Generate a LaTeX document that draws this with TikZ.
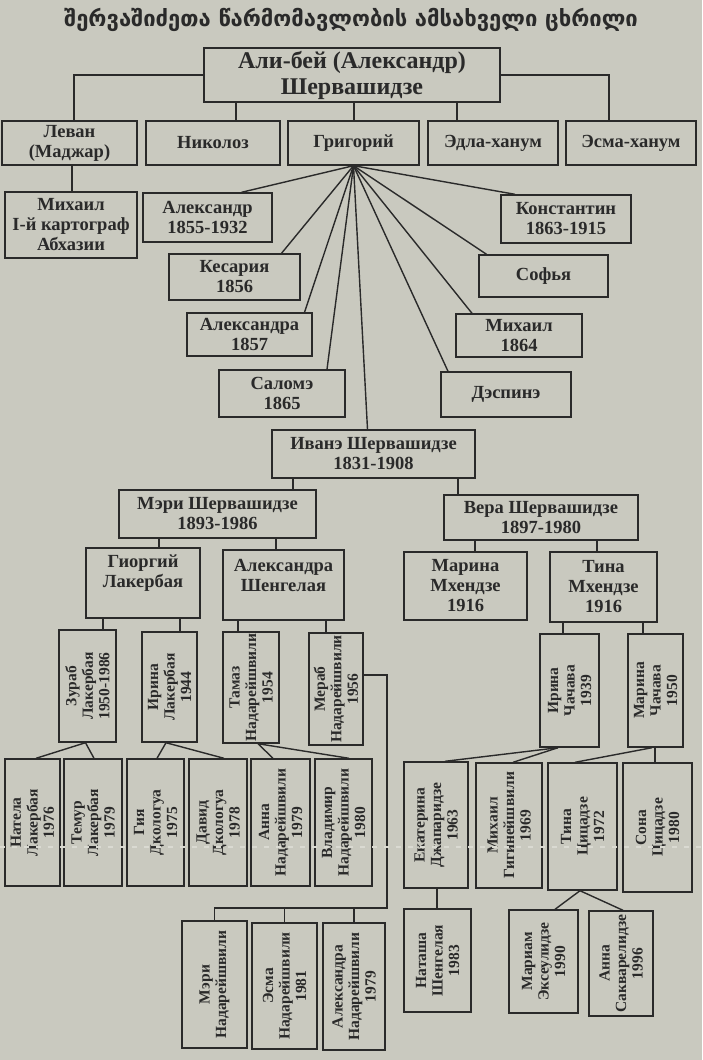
\documentclass[tikz,border=0pt]{standalone}
\usepackage{fontspec}
\setmainfont{Liberation Serif}
\newfontfamily\geo{DejaVu Sans}
\definecolor{paper}{HTML}{C9C9BF}
\definecolor{ink}{HTML}{2A2A2A}
\definecolor{creasec}{HTML}{DADAD2}
\tikzset{
 box/.style={draw=ink, line width=1.4pt, inner sep=0pt},
 lbl/.style={text=ink, font=\bfseries\fontsize{18.5}{20}\selectfont, align=center, inner sep=0pt},
 rlbl/.style={text=ink, font=\bfseries\fontsize{15.5}{16.5}\selectfont, align=center, inner sep=0pt, rotate=90},
 con/.style={draw=ink, line width=1.4pt},
 crease/.style={draw=creasec, line width=1.6pt, dash pattern=on 5pt off 7pt},
}
\newcommand\bx[7][]{%
 \pgfmathsetmacro\bxw{#5-#3}\pgfmathsetmacro\bxh{#6-#4}%
 \pgfmathsetmacro\bxcx{(#3+#5)/2}\pgfmathsetmacro\bxcy{-(#4+#6)/2}%
 \node[box, minimum width=\bxw pt, minimum height=\bxh pt] (#2) at (\bxcx,\bxcy) {};
 \node[lbl,#1] at (#2.center) {#7};}
\newcommand\rbx[7][]{\bx[rlbl,#1]{#2}{#3}{#4}{#5}{#6}{#7}}
\newcommand\vl[3]{\draw[con] (#3,0 |- #1.south) -- (#3,0 |- #2.north);}
\begin{document}
\begin{tikzpicture}[x=1pt,y=1pt]
\fill[paper] (0,0) rectangle (702,-1060);
\useasboundingbox (0,0) rectangle (702,-1060);
\node[text=ink, font=\geo\bfseries\fontsize{22}{24}\selectfont] (title) at (351,-20) {შერვაშიძეთა წარმომავლობის ამსახველი ცხრილი};
% level 0-1
\bx[font=\bfseries\fontsize{24}{26}\selectfont]{root}{204}{48}{500}{102}{Али-бей (Александр)\\Шервашидзе}
\bx{levan}{2}{121}{137}{165}{Леван\\(Маджар)}
\bx{nikoloz}{146}{121}{280}{165}{Николоз}
\bx{grig}{288}{121}{419}{165}{Григорий}
\bx{edla}{428}{121}{558}{165}{Эдла-ханум}
\bx{esma}{566}{121}{696}{165}{Эсма-ханум}
\bx{mikhail}{5}{192}{137}{258}{Михаил\\I-й картограф\\Абхазии}
% children of Grigori
\bx{alex}{143}{193}{272}{242}{Александр\\1855-1932}
\bx{kesar}{169}{254}{300}{300}{Кесария\\1856}
\bx{alexa}{187}{313}{312}{356}{Александра\\1857}
\bx{salome}{219}{370}{345}{417}{Саломэ\\1865}
\bx{konst}{501}{195}{631}{243}{Константин\\1863-1915}
\bx{sofia}{479}{255}{608}{297}{Софья}
\bx{mikh64}{456}{314}{582}{357}{Михаил\\1864}
\bx{despine}{441}{372}{571}{417}{Дэспинэ}
\bx{ivane}{272}{430}{475}{478}{Иванэ Шервашидзе\\1831-1908}
% next generations
\bx{meri}{119}{490}{316}{538}{Мэри Шервашидзе\\1893-1986}
\bx{vera}{444}{495}{638}{540}{Вера Шервашидзе\\1897-1980}
\bx[yshift=10]{giorgi}{86}{548}{200}{618}{Гиоргий\\Лакербая}
\bx[yshift=10]{alexsh}{223}{550}{344}{620}{Александра\\Шенгелая}
\bx{marinam}{404}{552}{527}{620}{Марина\\Мхендзе\\1916}
\bx{tinam}{550}{552}{657}{622}{Тина\\Мхендзе\\1916}
\rbx{zurab}{59}{630}{116}{742}{Зураб\\Лакербая\\1950-1986}
\rbx{irinal}{142}{632}{197}{742}{Ирина\\Лакербая\\1944}
\rbx{tamaz}{223}{632}{279}{743}{Тамаз\\Надарейшвили\\1954}
\rbx{merab}{309}{633}{363}{745}{Мераб\\Надарейшвили\\1956}
\rbx{irinach}{540}{634}{599}{747}{Ирина\\Чачава\\1939}
\rbx{marinach}{628}{634}{683}{747}{Марина\\Чачава\\1950}
\rbx{natela}{5}{759}{60}{886}{Натела\\Лакербая\\1976}
\rbx{temur}{64}{759}{122}{886}{Темур\\Лакербая\\1979}
\rbx{gia}{127}{759}{184}{886}{Гия\\Дкологуа\\1975}
\rbx{davit}{189}{759}{247}{886}{Давид\\Дкологуа\\1978}
\rbx{annan}{251}{759}{310}{886}{Анна\\Надарейшвили\\1979}
\rbx{vlad}{315}{759}{372}{886}{Владимир\\Надарейшвили\\1980}
\rbx{ekat}{404}{762}{468}{888}{Екатерина\\Джапаридзе\\1963}
\rbx{mikhg}{476}{763}{542}{888}{Михаил\\Гигинейшвили\\1969}
\rbx{tina}{548}{763}{617}{890}{Тина\\Цицадзе\\1972}
\rbx{sona}{623}{763}{692}{892}{Сона\\Цицадзе\\1980}
\rbx{merin}{182}{921}{247}{1048}{Мэри\\Надарейшвили}
\rbx{esman}{252}{923}{317}{1049}{Эсма\\Надарейшвили\\1981}
\rbx{alexn}{323}{923}{385}{1050}{Александра\\Надарейшвили\\1979}
\rbx{natasha}{404}{909}{471}{1012}{Наташа\\Шенгелая\\1983}
\rbx{mariam}{509}{910}{578}{1013}{Мариам\\Эксеулидзе\\1990}
\rbx{annas}{589}{911}{653}{1016}{Анна\\Сакварелидзе\\1996}
% connectors: top
\draw[con] (root.west) -| (74,0 |- levan.north);
\draw[con] (root.east) -| (609,0 |- esma.north);
\vl{root}{nikoloz}{236}
\vl{root}{grig}{354}
\vl{root}{edla}{457}
\vl{levan}{mikhail}{72}
% fan from Grigori
\coordinate (gf) at (grig.south);
\draw[con] (gf) -- ([xshift=34]alex.north);
\draw[con] (gf) -- ([xshift=47]kesar.north);
\draw[con] (gf) -- ([xshift=55]alexa.north);
\draw[con] (gf) -- ([xshift=45]salome.north);
\draw[con] (gf) -- ([xshift=-6]ivane.north);
\draw[con] (gf) -- ([xshift=-58]despine.north);
\draw[con] (gf) -- ([xshift=-47]mikh64.north);
\draw[con] (gf) -- ([xshift=-57]sofia.north);
\draw[con] (gf) -- ([xshift=-51]konst.north);
% Ivane line
\vl{ivane}{meri}{293}
\vl{ivane}{vera}{458}
\vl{meri}{giorgi}{159}
\vl{meri}{alexsh}{276}
\vl{vera}{marinam}{475}
\vl{vera}{tinam}{597}
\vl{giorgi}{zurab}{103}
\vl{giorgi}{irinal}{180}
\vl{alexsh}{tamaz}{238}
\vl{alexsh}{merab}{326}
\vl{tinam}{irinach}{563}
\vl{tinam}{marinach}{643}
\vl{marinach}{sona}{655}
\vl{ekat}{natasha}{437}
% diagonals
\draw[con] ([xshift=-2]zurab.south) -- ([xshift=3.5]natela.north);
\draw[con] ([xshift=-2]zurab.south) -- ([xshift=1]temur.north);
\draw[con] ([xshift=-3.5]irinal.south) -- ([xshift=1.5]gia.north);
\draw[con] ([xshift=-3.5]irinal.south) -- ([xshift=6]davit.north);
\draw[con] ([xshift=7]tamaz.south) -- ([xshift=-7.5]annan.north);
\draw[con] ([xshift=7]tamaz.south) -- ([xshift=5.5]vlad.north);
\draw[con] ([xshift=-11.5]irinach.south) -- ([xshift=9]ekat.north);
\draw[con] ([xshift=-11.5]irinach.south) -- ([xshift=4]mikhg.north);
\draw[con] ([xshift=-3.5]marinach.south) -- ([xshift=-7.5]tina.north);
\draw[con] ([xshift=-2.5]tina.south) -- ([xshift=11.5]mariam.north);
\draw[con] ([xshift=-2.5]tina.south) -- ([xshift=2]annas.north);
% Merab's children
\coordinate (mj) at (387,-908);
\draw[con] ([yshift=14]merab.east) -| (mj) -| (merin.north);
\draw[con] (esman.north) -- (esman.north |- mj);
\draw[con] (alexn.north) -- (alexn.north |- mj);
% fold crease
\draw[crease] (0,-847) -- (702,-847);
\end{tikzpicture}
\end{document}
